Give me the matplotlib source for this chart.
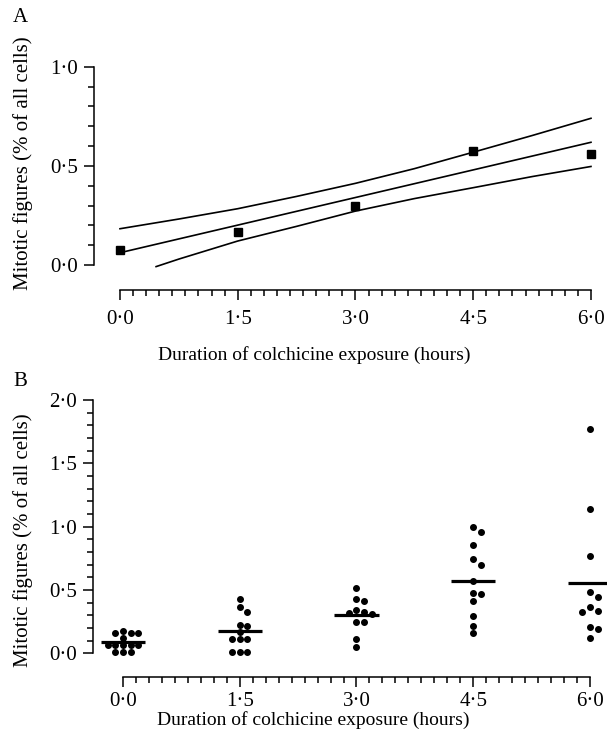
import numpy as np
import matplotlib
matplotlib.use('Agg')
import matplotlib.pyplot as plt
from matplotlib.ticker import FixedLocator

plt.rcParams['font.family'] = ['Liberation Serif', 'DejaVu Serif']
plt.rcParams['font.size'] = 14

# ---- panel A: mean mitotic index with regression and confidence band
hours = [0.0, 1.5, 3.0, 4.5, 6.0]
hour_labels = ['0·0', '1·5', '3·0', '4·5', '6·0']
mean_pct = [0.076, 0.168, 0.299, 0.573, 0.560]
fit_x = [0.0, 6.0]
fit_y = [0.062, 0.619]
upper_x = [0.0, 0.75, 1.5, 2.25, 3.0, 3.75, 4.5, 5.25, 6.0]
upper_y = [0.183, 0.232, 0.284, 0.346, 0.412, 0.486, 0.569, 0.653, 0.740]
lower_x = [0.46, 0.75, 1.5, 2.25, 3.0, 3.75, 4.5, 5.25, 6.0]
lower_y = [-0.008, 0.030, 0.121, 0.195, 0.272, 0.335, 0.390, 0.446, 0.497]
ya_ticks = [0.0, 0.5, 1.0]
ya_labels = ['0·0', '0·5', '1·0']

# ---- panel B: individual animals
group_0 = [0.179, 0.163, 0.163, 0.158, 0.118, 0.065, 0.063, 0.065, 0.063, 0.063, 0.012, 0.012, 0.012]
group_15 = [0.426, 0.363, 0.324, 0.223, 0.218, 0.170, 0.113, 0.113, 0.113, 0.013, 0.013, 0.013]
group_30 = [0.513, 0.426, 0.415, 0.342, 0.329, 0.316, 0.310, 0.250, 0.250, 0.110, 0.052]
group_45 = [0.995, 0.960, 0.855, 0.742, 0.697, 0.573, 0.474, 0.468, 0.415, 0.297, 0.218, 0.163]
group_60 = [1.771, 1.137, 0.771, 0.486, 0.447, 0.363, 0.334, 0.324, 0.208, 0.192, 0.118]
groups = [group_0, group_15, group_30, group_45, group_60]
yb_ticks = [0.0, 0.5, 1.0, 1.5, 2.0]
yb_labels = ['0·0', '0·5', '1·0', '1·5', '2·0']

xlab = 'Duration of colchicine exposure (hours)'
ylab = 'Mitotic figures (% of all cells)'

W, H = 607, 744
fig = plt.figure(figsize=(W / 100, H / 100), dpi=100)


def make_axes(l, t, r, b):
    return fig.add_axes([l / W, 1 - b / H, (r - l) / W, (b - t) / H])


def style(ax, ymax, yticks, ylabels, xpad):
    for s in ['top', 'right']:
        ax.spines[s].set_visible(False)
    for s in ['left', 'bottom']:
        ax.spines[s].set_linewidth(1.1)
    ax.spines['bottom'].set_bounds(0, 6)
    ax.spines['left'].set_bounds(0, ymax)
    ax.xaxis.set_major_locator(FixedLocator(hours))
    ax.set_xticklabels(hour_labels)
    ax.xaxis.set_minor_locator(FixedLocator(np.arange(0, 6.001, 1 / 6)))
    ax.yaxis.set_major_locator(FixedLocator(yticks))
    ax.set_yticklabels(ylabels)
    ax.yaxis.set_minor_locator(FixedLocator(np.arange(0, ymax + 0.001, 0.1)))
    ax.tick_params(which='major', length=7.5, width=1.1, labelsize=15)
    ax.tick_params(axis='y', which='major', pad=4)
    ax.tick_params(axis='x', which='major', pad=xpad)
    ax.tick_params(which='minor', length=4.5, width=1.1)


# panel A
axA = make_axes(94, 60, 600, 290)
axA.set_xlim(-0.331, 6.115)
axA.set_ylim(-0.126, 1.034)
axA.plot(fit_x, fit_y, color='black', lw=1.2)
axA.plot(upper_x, upper_y, color='black', lw=1.2)
axA.plot(lower_x, lower_y, color='black', lw=1.2)
axA.plot(hours, mean_pct, 's', color='black', ms=5.2, clip_on=False)
style(axA, 1.0, ya_ticks, ya_labels, 7)
axA.set_xlabel(xlab, fontsize=14)
axA.set_ylabel(ylab, fontsize=15)
axA.xaxis.set_label_coords(0.435, -0.242)
axA.yaxis.set_label_coords(-0.12, 0.552)

# panel B
axB = make_axes(93, 395, 607, 677)
axB.set_xlim(-0.385, 6.218)
axB.set_ylim(-0.187, 2.04)
style(axB, 2.0, yb_ticks, yb_labels, 3.5)

# simple dot-plot stacking in pixel space
step_px = 7.7
min_px = 6.2
to_px = axB.transData
for h, vals in zip(hours, groups):
    placed = []
    xs = []
    for v in vals:
        px, py = to_px.transform((h, v))
        order = [0]
        for i in range(1, 8):
            order += [i, -i]
        for k in order:
            cx = px + k * step_px
            if all((cx - qx) ** 2 + (py - qy) ** 2 >= min_px ** 2 for qx, qy in placed):
                break
        placed.append((cx, py))
        xs.append(to_px.inverted().transform((cx, py))[0])
    axB.plot(xs, vals, 'o', color='black', ms=4, clip_on=False)
    m = np.mean(vals)
    axB.hlines(m, h - 0.283, h + 0.283, color='black', lw=2.3, clip_on=False)

axB.set_xlabel(xlab, fontsize=14)
axB.set_ylabel(ylab, fontsize=15)
axB.xaxis.set_label_coords(0.428, -0.122)
axB.yaxis.set_label_coords(-0.117, 0.486)

fig.text(20 / W, 1 - 17 / H, 'A', ha='center', va='center', fontsize=15)
fig.text(20 / W, 1 - 382 / H, 'B', ha='center', va='center', fontsize=15)

fig.savefig('out.png', dpi=100)
